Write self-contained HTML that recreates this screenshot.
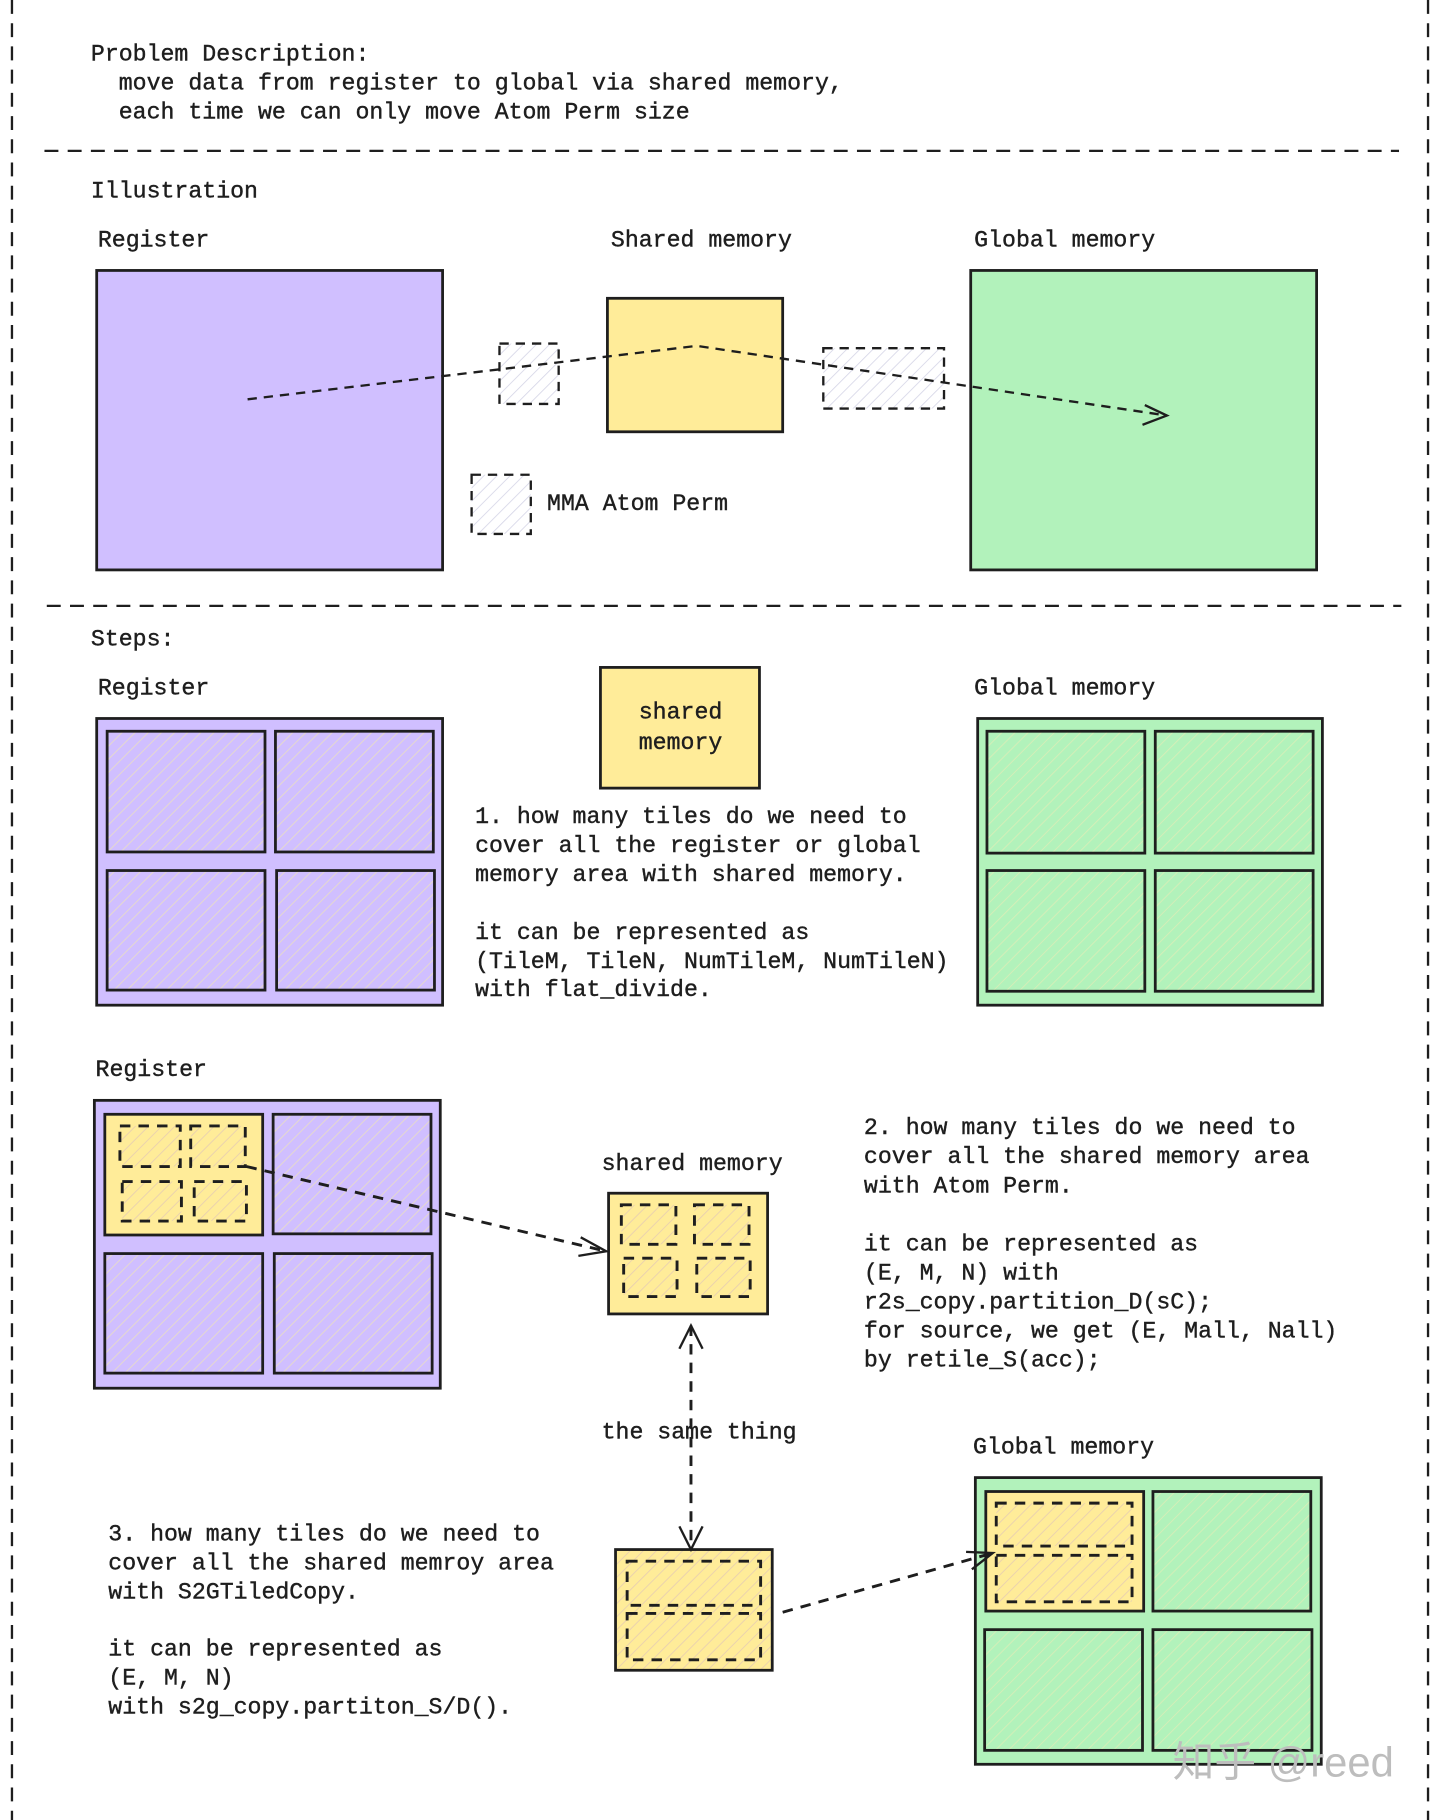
<!DOCTYPE html>
<html><head><meta charset="utf-8"><style>
html,body{margin:0;padding:0;background:#fff;}
svg{display:block;}
text{font-family:"Liberation Mono",monospace;font-size:20px;fill:#1e1e1e;stroke:#1e1e1e;stroke-width:0.35px;dominant-baseline:central;}
</style></head><body>
<svg width="1440" height="1820" viewBox="0 0 1240 1568" xmlns="http://www.w3.org/2000/svg">
<defs>
<pattern id="hp" width="8" height="8" patternUnits="userSpaceOnUse" patternTransform="rotate(45)"><rect width="8" height="8" fill="#d0bfff"/><line x1="0" y1="0" x2="0" y2="8" stroke="#e8dcc8" stroke-width="1.5"/></pattern>
<pattern id="hg" width="8" height="8" patternUnits="userSpaceOnUse" patternTransform="rotate(45)"><rect width="8" height="8" fill="#b2f2bb"/><line x1="0" y1="0" x2="0" y2="8" stroke="#d8eeb8" stroke-width="1.5"/></pattern>
<pattern id="hy" width="8" height="8" patternUnits="userSpaceOnUse" patternTransform="rotate(45)"><rect width="8" height="8" fill="#ffec99"/><line x1="0" y1="0" x2="0" y2="8" stroke="#e8cfb0" stroke-width="1.5"/></pattern>
<pattern id="hw" width="8" height="8" patternUnits="userSpaceOnUse" patternTransform="rotate(45)"><rect width="8" height="8" fill="#fff"/><line x1="0" y1="0" x2="0" y2="8" stroke="#d8d8e8" stroke-width="1.5"/></pattern>
</defs>
<g stroke="#1e1e1e" stroke-width="2" stroke-dasharray="12 8" fill="none">
<line x1="10" y1="0" x2="10" y2="1568"/>
<line x1="1230" y1="0" x2="1230" y2="1568"/>
<line x1="38" y1="130" x2="1205" y2="130"/>
<line x1="40" y1="522" x2="1207" y2="522"/>
</g>
<text x="78" y="47">Problem Description:</text>
<text x="102" y="72">move data from register to global via shared memory,</text>
<text x="102" y="97">each time we can only move Atom Perm size</text>
<text x="78" y="165">Illustration</text>
<text x="84" y="207">Register</text>
<text x="526" y="207">Shared memory</text>
<text x="839" y="207">Global memory</text>
<g stroke="#1e1e1e" stroke-width="2.4">
<rect x="83" y="233" width="298" height="258" fill="#d0bfff"/>
<rect x="523" y="257" width="151" height="115" fill="#ffec99"/>
<rect x="836" y="233" width="298" height="258" fill="#b2f2bb"/>
</g>
<g stroke="#1e1e1e" stroke-width="2" stroke-dasharray="8 6">
<rect x="430" y="296" width="51" height="52" fill="url(#hw)"/>
<rect x="709" y="300" width="104" height="52" fill="url(#hw)"/>
<rect x="406" y="409" width="51" height="51" fill="url(#hw)"/>
<polyline points="213,344 600,298 1005,358" fill="none"/>
</g>
<polyline points="986,349 1005,358 984,366" fill="none" stroke="#1e1e1e" stroke-width="2"/>
<text x="471" y="434">MMA Atom Perm</text>

<text x="78" y="551">Steps:</text>
<text x="84" y="593">Register</text>
<text x="839" y="593">Global memory</text>
<g stroke="#1e1e1e" stroke-width="2.4">
<rect x="83" y="619" width="298" height="247" fill="#d0bfff"/>
<rect x="92" y="630" width="136" height="104" fill="url(#hp)"/>
<rect x="237" y="630" width="136" height="104" fill="url(#hp)"/>
<rect x="92" y="750" width="136" height="103" fill="url(#hp)"/>
<rect x="238" y="750" width="136" height="103" fill="url(#hp)"/>
<rect x="517" y="575" width="137" height="104" fill="#ffec99"/>
<rect x="842" y="619" width="297" height="247" fill="#b2f2bb"/>
<rect x="850" y="630" width="136" height="105" fill="url(#hg)"/>
<rect x="995" y="630" width="136" height="105" fill="url(#hg)"/>
<rect x="850" y="750" width="136" height="104" fill="url(#hg)"/>
<rect x="995" y="750" width="136" height="104" fill="url(#hg)"/>
</g>
<text x="586" y="614" text-anchor="middle">shared</text>
<text x="586" y="640" text-anchor="middle">memory</text>
<text x="409" y="704">1. how many tiles do we need to</text>
<text x="409" y="729">cover all the register or global</text>
<text x="409" y="754">memory area with shared memory.</text>
<text x="409" y="804">it can be represented as</text>
<text x="409" y="829">(TileM, TileN, NumTileM, NumTileN)</text>
<text x="409" y="853">with flat_divide.</text>

<text x="82" y="922">Register</text>
<g stroke="#1e1e1e" stroke-width="2.4">
<rect x="81" y="948" width="298" height="248" fill="#d0bfff"/>
<rect x="90" y="960" width="136" height="104" fill="#ffec99"/>
<rect x="235" y="960" width="136" height="103" fill="url(#hp)"/>
<rect x="90" y="1080" width="136" height="103" fill="url(#hp)"/>
<rect x="236" y="1080" width="136" height="103" fill="url(#hp)"/>
<rect x="524" y="1028" width="137" height="104" fill="#ffec99"/>
<rect x="840" y="1273" width="298" height="247" fill="#b2f2bb"/>
<rect x="849" y="1285" width="136" height="103" fill="#ffec99"/>
<rect x="993" y="1285" width="136" height="103" fill="url(#hg)"/>
<rect x="848" y="1404" width="136" height="104" fill="url(#hg)"/>
<rect x="993" y="1404" width="137" height="104" fill="url(#hg)"/>
<rect x="530" y="1335" width="135" height="104" fill="url(#hy)"/>
</g>
<g stroke="#1e1e1e" stroke-width="2.5" stroke-dasharray="9 7">
<rect x="103" y="970" width="52" height="35" fill="url(#hy)"/>
<rect x="164" y="970" width="47" height="35" fill="url(#hy)"/>
<rect x="105" y="1018" width="51" height="34" fill="url(#hy)"/>
<rect x="167" y="1018" width="45" height="34" fill="url(#hy)"/>
<rect x="535" y="1038" width="47" height="34" fill="url(#hy)"/>
<rect x="598" y="1038" width="47" height="34" fill="url(#hy)"/>
<rect x="537" y="1084" width="46" height="33" fill="url(#hy)"/>
<rect x="600" y="1084" width="46" height="33" fill="url(#hy)"/>
<rect x="858" y="1295" width="117" height="37" fill="url(#hy)"/>
<rect x="858" y="1340" width="117" height="40" fill="url(#hy)"/>
<rect x="540" y="1345" width="115" height="38" fill="none"/>
<rect x="540" y="1390" width="115" height="40" fill="none"/>
<line x1="212" y1="1005" x2="522" y2="1078" fill="none"/>
<line x1="595" y1="1142" x2="595" y2="1335"/>
<line x1="674" y1="1389" x2="855" y2="1338"/>
</g>
<g stroke="#1e1e1e" stroke-width="2" fill="none">
<polyline points="500,1066 522,1078 498,1082"/>
<polyline points="585,1162 595,1142 605,1162"/>
<polyline points="585,1315 595,1335 605,1315"/>
<polyline points="832,1337 855,1338 837,1352"/>
</g>
<text x="518" y="1003">shared memory</text>
<text x="744" y="972">2. how many tiles do we need to</text>
<text x="744" y="997">cover all the shared memory area</text>
<text x="744" y="1022">with Atom Perm.</text>
<text x="744" y="1072">it can be represented as</text>
<text x="744" y="1097">(E, M, N) with</text>
<text x="744" y="1122">r2s_copy.partition_D(sC);</text>
<text x="744" y="1147">for source, we get (E, Mall, Nall)</text>
<text x="744" y="1172">by retile_S(acc);</text>
<text x="518" y="1234">the same thing</text>
<text x="838" y="1247">Global memory</text>
<text x="93" y="1322">3. how many tiles do we need to</text>
<text x="93" y="1347">cover all the shared memroy area</text>
<text x="93" y="1372">with S2GTiledCopy.</text>
<text x="93" y="1421">it can be represented as</text>
<text x="93" y="1446">(E, M, N)</text>
<text x="93" y="1471">with s2g_copy.partiton_S/D().</text>
<text x="1010" y="1518" style="font-family:'Liberation Sans','Noto Sans CJK SC',sans-serif;font-size:36px;fill:#bdbdbd;stroke:none;">知乎 @reed</text>
</svg>
</body></html>
